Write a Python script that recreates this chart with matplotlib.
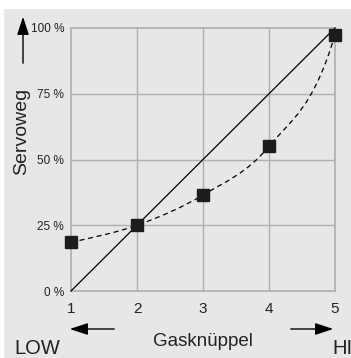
import numpy as np
import matplotlib.pyplot as plt
from matplotlib.path import Path
from matplotlib.patches import PathPatch

# ─── data ──────────────────────────────────────────────
stick_pos   = [1, 2, 3, 4, 5]
servo_curve = [18.5, 25, 36.5, 55, 97.5]
linear_x    = [1, 5]
linear_y    = [0, 100]
y_ticks     = [0, 25, 50, 75, 100]
y_labels    = ["0 %", "25 %", "50 %", "75 %", "100 %"]

BG   = "#e6e7e9"
GRID = "#aeaeae"
TXT  = "#222222"

plt.rcParams["font.family"] = ["Liberation Sans", "DejaVu Sans"]

W, H = 351, 358
fig = plt.figure(figsize=(W / 100, H / 100), dpi=100, facecolor=BG)
# white strip top + left edge
fig.patches.append(plt.Rectangle((0, 1 - 8 / H), 1, 8 / H,
                                 transform=fig.transFigure, color="white", zorder=-1))
fig.patches.append(plt.Rectangle((0, 0), 3 / W, 1,
                                 transform=fig.transFigure, color="white", zorder=-1))

ax = fig.add_axes([71 / W, 1 - 291 / H, (335 - 71) / W, (291 - 28) / H])
ax.set_facecolor(BG)
ax.set_xlim(1, 5)
ax.set_ylim(0, 100)

for v in [2, 3, 4]:
    ax.axvline(v, color=GRID, lw=1.0, zorder=1)
for v in [25, 50, 75]:
    ax.axhline(v, color=GRID, lw=1.0, zorder=1)
for s in ax.spines.values():
    s.set_color(GRID)
    s.set_linewidth(1.2)

ax.plot(linear_x, linear_y, color="black", lw=0.9, zorder=3, clip_on=False)

# smooth dashed curve: cubic bezier (hermite) through the points
x = np.array(stick_pos, float)
y = np.array(servo_curve, float)
n = len(x)
sec = np.diff(y) / np.diff(x)
m = np.empty(n)
m[1:-1] = (y[2:] - y[:-2]) / (x[2:] - x[:-2])
m[0] = sec[0] * 0.9
m[-1] = sec[-1] * 2.0
verts, codes = [(x[0], y[0])], [Path.MOVETO]
for i in range(n - 1):
    h = x[i + 1] - x[i]
    verts += [(x[i] + h / 3, y[i] + m[i] * h / 3),
              (x[i + 1] - h / 3, y[i + 1] - m[i + 1] * h / 3),
              (x[i + 1], y[i + 1])]
    codes += [Path.CURVE4] * 3
ax.add_patch(PathPatch(Path(verts, codes), fill=False, ec="black", lw=0.9,
                       ls=(0, (4, 3)), zorder=3, clip_on=False))

ax.plot(stick_pos, servo_curve, ls="none", marker="s", ms=8.5,
        color="#1c1c1c", zorder=4, clip_on=False)

ax.set_xticks(stick_pos)
ax.set_xticklabels([str(v) for v in stick_pos], fontsize=11)
ax.set_yticks(y_ticks)
ax.set_yticklabels(y_labels, fontsize=8.5)
ax.tick_params(length=0, pad=5, colors=TXT)
ax.tick_params(axis="x", pad=8)

# axis annotations
fig.text(22 / W, 1 - 131 / H, "Servoweg", rotation=90, fontsize=14,
         ha="center", va="center", color=TXT)
fig.text(203 / W, 1 - 341 / H, "Gasknüppel", fontsize=13.5,
         ha="center", va="center", color=TXT)
fig.text(37 / W, 1 - 348 / H, "LOW", fontsize=14.5,
         ha="center", va="center", color=TXT)
fig.text(342 / W, 1 - 348 / H, "HI", fontsize=14.5,
         ha="center", va="center", color=TXT)

arrow = dict(arrowstyle="-|>,head_length=1.0,head_width=0.33",
             color="black", lw=1.0, mutation_scale=11)
ax.annotate("", xy=(23 / W, 1 - 14 / H), xytext=(23 / W, 1 - 66 / H),
            xycoords="figure fraction", arrowprops=arrow, annotation_clip=False)
ax.annotate("", xy=(67 / W, 1 - 329 / H), xytext=(117 / W, 1 - 329 / H),
            xycoords="figure fraction", arrowprops=arrow, annotation_clip=False)
ax.annotate("", xy=(336 / W, 1 - 329 / H), xytext=(288 / W, 1 - 329 / H),
            xycoords="figure fraction", arrowprops=arrow, annotation_clip=False)

fig.savefig("out.png", dpi=100, facecolor=BG)
